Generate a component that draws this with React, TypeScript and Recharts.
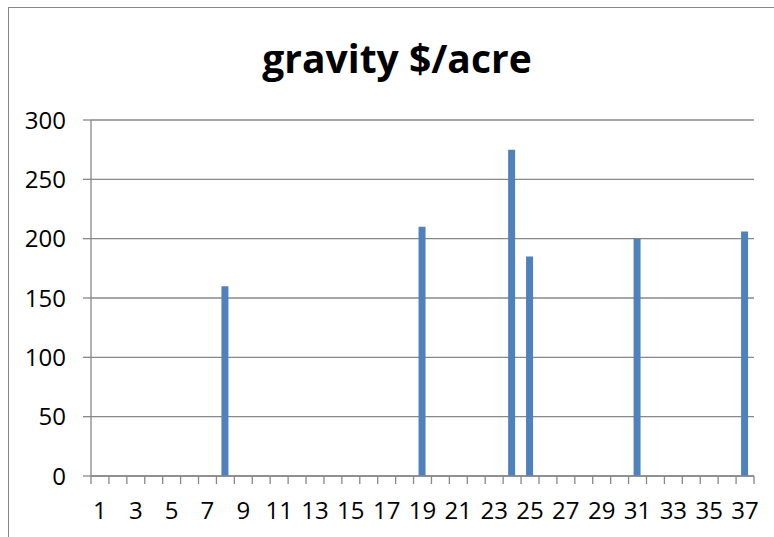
import { Bar, BarChart, CartesianGrid, XAxis, YAxis } from "recharts";

// day number along the x axis (1..37)
const days: number[] = Array.from({ length: 37 }, (_, i) => i + 1);
// $/acre values, only a few days have a value
const gravityByDay: Record<number, number> = {
  8: 160,
  19: 210,
  24: 275,
  25: 185,
  31: 200,
  37: 206,
};
const yTicks = [0, 50, 100, 150, 200, 250, 300];
// category boundaries, where Excel draws the small tick marks
const edgeTicks = Array.from({ length: 38 }, (_, i) => i + 0.5);

const data = days.map((d) => ({ day: d, value: gravityByDay[d] ?? 0 }));

const GRAY = "#888888";
const FONT = "'Open Sans', 'Liberation Sans', sans-serif";

export default function App() {
  return (
    <div
      style={{
        position: "absolute",
        left: 0,
        top: 0,
        width: 774,
        height: 537,
        overflow: "hidden",
        background: "#fff",
        fontFamily: FONT,
      }}
    >
      {/* chart frame, its right and bottom edges run off the page */}
      <div
        style={{
          position: "absolute",
          left: 8,
          top: 7,
          width: 820,
          height: 600,
          border: `1px solid ${GRAY}`,
        }}
      />
      <div
        style={{
          position: "absolute",
          left: 0,
          top: 32,
          width: 794,
          textAlign: "center",
          fontSize: 39,
          lineHeight: "52px",
          fontWeight: 700,
          color: "#000",
        }}
      >
        gravity $/acre
      </div>
      <div style={{ position: "absolute", left: 0, top: 0 }}>
        <BarChart
          width={774}
          height={537}
          data={data}
          margin={{ top: 120, right: 20, left: 0, bottom: 0 }}
          barSize={7}
        >
          <CartesianGrid
            xAxisId="labels"
            vertical={false}
            stroke={GRAY}
            strokeWidth={1.3}
          />
          <XAxis
            xAxisId="edges"
            type="number"
            dataKey="day"
            domain={[0.5, 37.5]}
            ticks={edgeTicks}
            tickFormatter={() => ""}
            height={8}
            tickSize={8}
            axisLine={{ stroke: GRAY, strokeWidth: 1.3 }}
            tickLine={{ stroke: GRAY, strokeWidth: 1.3 }}
            allowDataOverflow
          />
          <XAxis
            xAxisId="labels"
            dataKey="day"
            interval={1}
            height={53}
            tickLine={false}
            axisLine={false}
            tickSize={8}
            tickMargin={10}
            tick={{ fill: "#000", fontSize: 24, fontFamily: FONT }}
          />
          <YAxis
            width={91}
            domain={[0, 300]}
            ticks={yTicks}
            tickSize={8}
            tickMargin={17}
            axisLine={{ stroke: GRAY, strokeWidth: 1.3 }}
            tickLine={{ stroke: GRAY, strokeWidth: 1.3 }}
            tick={{ fill: "#000", fontSize: 24, fontFamily: FONT }}
          />
          <Bar
            xAxisId="labels"
            dataKey="value"
            fill="#4F81BD"
            isAnimationActive={false}
          />
        </BarChart>
      </div>
    </div>
  );
}
